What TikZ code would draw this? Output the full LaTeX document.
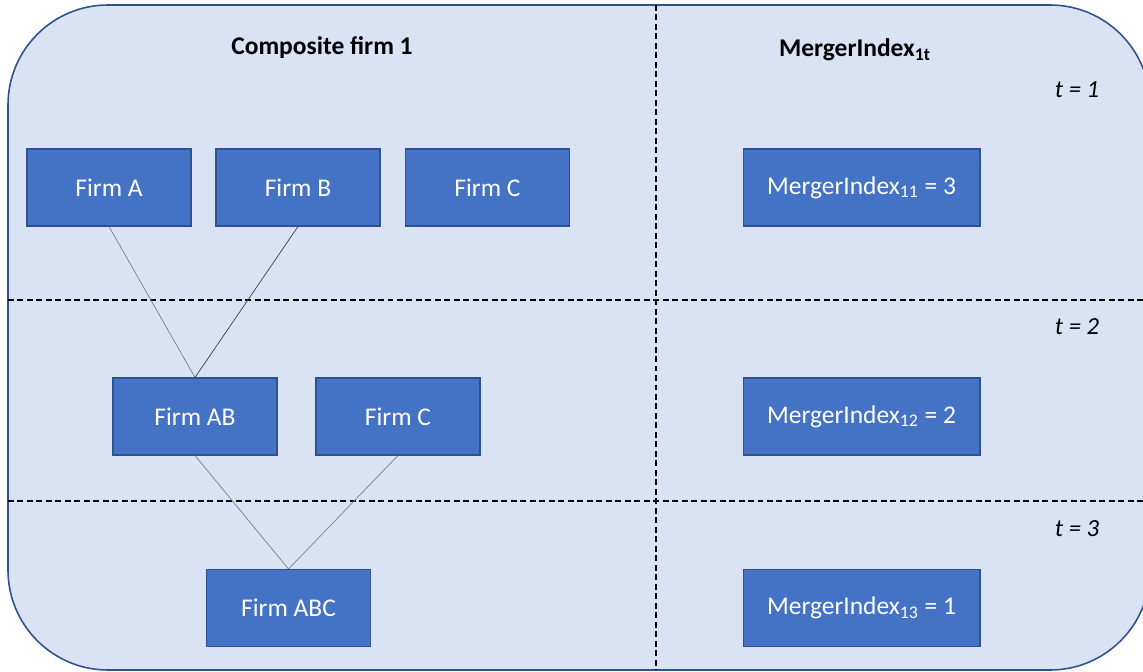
\documentclass[tikz,border=0pt]{standalone}
\usepackage{fontspec}
\setmainfont{Carlito}
\usepackage{tikz}

\definecolor{panelfill}{RGB}{218,227,243}
\definecolor{panelline}{RGB}{47,82,143}
\definecolor{firmfill}{RGB}{68,114,196}
\definecolor{firmline}{RGB}{47,82,143}

\tikzset{
  firm/.style={draw=firmline,fill=firmfill,text=white,line width=0.6pt,
    minimum width=3.28cm,minimum height=1.54cm,inner sep=0pt,
    font=\fontsize{14.5}{17}\selectfont},
  index/.style={firm,minimum width=4.74cm},
  heading/.style={font=\fontsize{14.5}{17}\selectfont\bfseries},
  period/.style={font=\fontsize{14}{17}\selectfont\itshape},
  split/.style={dashed,dash pattern=on 3.4pt off 2pt,line width=0.75pt},
  merge/.style={line width=0.4pt,draw=gray}
}

\begin{document}
\begin{tikzpicture}[x=0.02cm,y=-0.02cm]
    \useasboundingbox (0,0) rectangle (1143,672);
    \clip (0,0) rectangle (1143,672);
    \draw[panelline,fill=panelfill,line width=0.9pt,rounded corners=2cm]
        (8,5) rectangle (1150,670);

    % grid of periods
    \coordinate (h1l) at (8,300);   \coordinate (h1r) at (1143,300);
    \coordinate (h2l) at (8,501);   \coordinate (h2r) at (1143,501);
    \coordinate (vt) at (656,5);    \coordinate (vb) at (656,670);
    \draw[split] (h1l) -- (h1r);
    \draw[split] (h2l) -- (h2r);
    \draw[split] (vt) -- (vb);

    \node[heading] (comp) at (322,48) {Composite firm 1};
    \node[heading] (mihead) at (855,50) {MergerIndex\textsubscript{1t}};
    \node[period] (t1) at (1077,90) {t = 1};
    \node[period] (t2) at (1077,327) {t = 2};
    \node[period] (t3) at (1077,529) {t = 3};

    % t = 1
    \node[firm] (firmA) at (109,187.5) {Firm A};
    \node[firm] (firmB) at (298,187.5) {Firm B};
    \node[firm] (firmC) at (487.5,187.5) {Firm C};
    \node[index] (mi1) at (861.5,187.5) {MergerIndex\textsubscript{11} = 3};
    % t = 2
    \node[firm] (firmAB) at (195,416.5) {Firm AB};
    \node[firm] (firmCc) at (398,416.5) {Firm C};
    \node[index] (mi2) at (861.5,416.5) {MergerIndex\textsubscript{12} = 2};
    % t = 3
    \node[firm] (firmABC) at (288.5,608) {Firm ABC};
    \node[index] (mi3) at (861.5,608) {MergerIndex\textsubscript{13} = 1};

    \draw[merge] (firmA.south) -- (firmAB.north);
    \draw[merge,draw=black!75] (firmB.south) -- (firmAB.north);
    \draw[merge] (firmAB.south) -- (firmABC.north);
    \draw[merge] (firmCc.south) -- (firmABC.north);
\end{tikzpicture}
\end{document}
